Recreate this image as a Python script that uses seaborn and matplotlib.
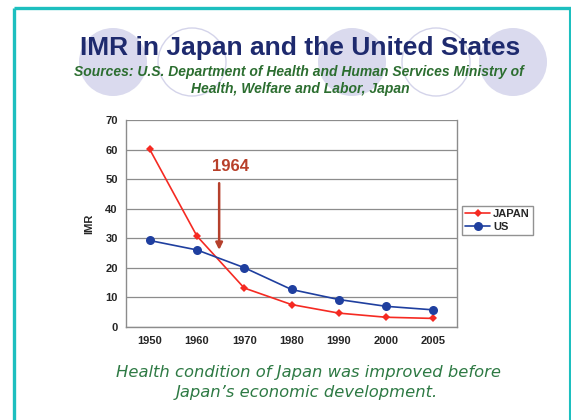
import pandas as pd
import numpy as np
import matplotlib
matplotlib.use('Agg')
import matplotlib.pyplot as plt
from matplotlib.patches import Circle
import seaborn as sns

# Data
years = ['1950', '1960', '1970', '1980', '1990', '2000', '2005']
japan = [60.1, 30.7, 13.1, 7.5, 4.6, 3.2, 2.8]
us = [29.2, 26.0, 20.0, 12.6, 9.2, 6.9, 5.7]
y_ticks = [0, 10, 20, 30, 40, 50, 60, 70]

df = pd.DataFrame({
    'year': years * 2,
    'IMR': japan + us,
    'country': ['JAPAN'] * len(years) + ['US'] * len(years),
})

sns.set_style('white')
plt.rcParams['font.family'] = ['Liberation Sans', 'DejaVu Sans']

fig = plt.figure(figsize=(5.71, 4.2), dpi=100)

# Background layer in pixel units: border and decorative circles
bg = fig.add_axes([0, 0, 1, 1])
bg.set_xlim(0, 571)
bg.set_ylim(420, 0)
bg.axis('off')
for cx in [113, 352, 513]:
    bg.add_patch(Circle((cx, 62), 34, facecolor='#dadaee', edgecolor='none'))
for cx in [192, 436]:
    bg.add_patch(Circle((cx, 62), 34, facecolor='none', edgecolor='#d4d4ea', lw=1.0))
bg.plot([14, 14], [8, 420], color='#1dbfbf', lw=2.4, solid_capstyle='butt')
bg.plot([14, 571], [8, 8], color='#1dbfbf', lw=2.4, solid_capstyle='butt')
bg.plot([569.5, 569.5], [8, 420], color='#1dbfbf', lw=1.5, solid_capstyle='butt')

fig.text(300 / 571, 1 - 48 / 420, 'IMR in Japan and the United States',
         ha='center', va='center', fontsize=19, fontweight='bold', color='#1e2a6e')
fig.text(299 / 571, 1 - 72 / 420,
         'Sources: U.S. Department of Health and Human Services Ministry of',
         ha='center', va='center', fontsize=10, fontweight='bold', style='italic', color='#2c6e30')
fig.text(300 / 571, 1 - 89 / 420, 'Health, Welfare and Labor, Japan',
         ha='center', va='center', fontsize=10, fontweight='bold', style='italic', color='#2c6e30')

# Chart
ax = fig.add_axes([126 / 571, 1 - 326.7 / 420, 331 / 571, 206.7 / 420])
sns.lineplot(data=df, x='year', y='IMR', hue='country', style='country',
             palette={'JAPAN': '#f52a22', 'US': '#1f3f9f'},
             markers={'JAPAN': 'D', 'US': 'o'}, dashes=False,
             markersize=6.5, markeredgewidth=0, linewidth=1.2, ax=ax)
for line in ax.get_lines():
    if line.get_marker() == 'D':
        line.set_markersize(4.5)

ax.set_xlim(-0.5, len(years) - 0.5)
ax.set_ylim(0, 70)
ax.set_yticks(y_ticks)
ax.yaxis.grid(True, color='#8c8c8c', lw=0.9)
ax.xaxis.grid(False)
ax.set_axisbelow(True)
for side in ['left', 'bottom', 'right']:
    ax.spines[side].set_color('#8c8c8c')
    ax.spines[side].set_linewidth(1.0)
ax.spines['top'].set_visible(False)
ax.set_xticks(np.arange(-0.5, len(years), 1.0), minor=True)
ax.tick_params(axis='x', which='major', length=0, pad=7, labelsize=8)
ax.tick_params(axis='x', which='minor', direction='in', length=4, color='#8c8c8c', width=1)
ax.tick_params(axis='y', length=0, pad=6, labelsize=8)
for lbl in ax.get_xticklabels() + ax.get_yticklabels():
    lbl.set_fontweight('bold')
ax.set_xlabel('')
ax.set_ylabel('IMR', fontsize=8, fontweight='bold', labelpad=8)

ax.annotate('', xy=(1.47, 26), xytext=(1.47, 48.6),
            arrowprops=dict(arrowstyle='-|>', color='#b5402c', lw=1.8,
                            mutation_scale=10, shrinkA=0, shrinkB=0))
ax.text(1.70, 54.4, '1964', ha='center', va='center', fontsize=12,
        fontweight='bold', color='#b8402a')

leg = ax.legend(loc='upper left', bbox_to_anchor=(462 / 571, 1 - 206 / 420),
                bbox_transform=fig.transFigure, frameon=True, fancybox=False,
                fontsize=8, handlelength=2.2, handletextpad=0.3,
                borderpad=0.3, labelspacing=0.2, borderaxespad=0)
leg.get_frame().set_edgecolor('#777777')
leg.get_frame().set_linewidth(1.0)
for t in leg.get_texts():
    t.set_fontweight('bold')

fig.text(309 / 571, 1 - 372 / 420, 'Health condition of Japan was improved before',
         ha='center', va='center', fontsize=11.8, style='italic', color='#2e7a44',
         family='DejaVu Sans')
fig.text(307 / 571, 1 - 393 / 420, 'Japan\u2019s economic development.',
         ha='center', va='center', fontsize=11.8, style='italic', color='#2e7a44',
         family='DejaVu Sans')

fig.savefig('out.png', dpi=100)
